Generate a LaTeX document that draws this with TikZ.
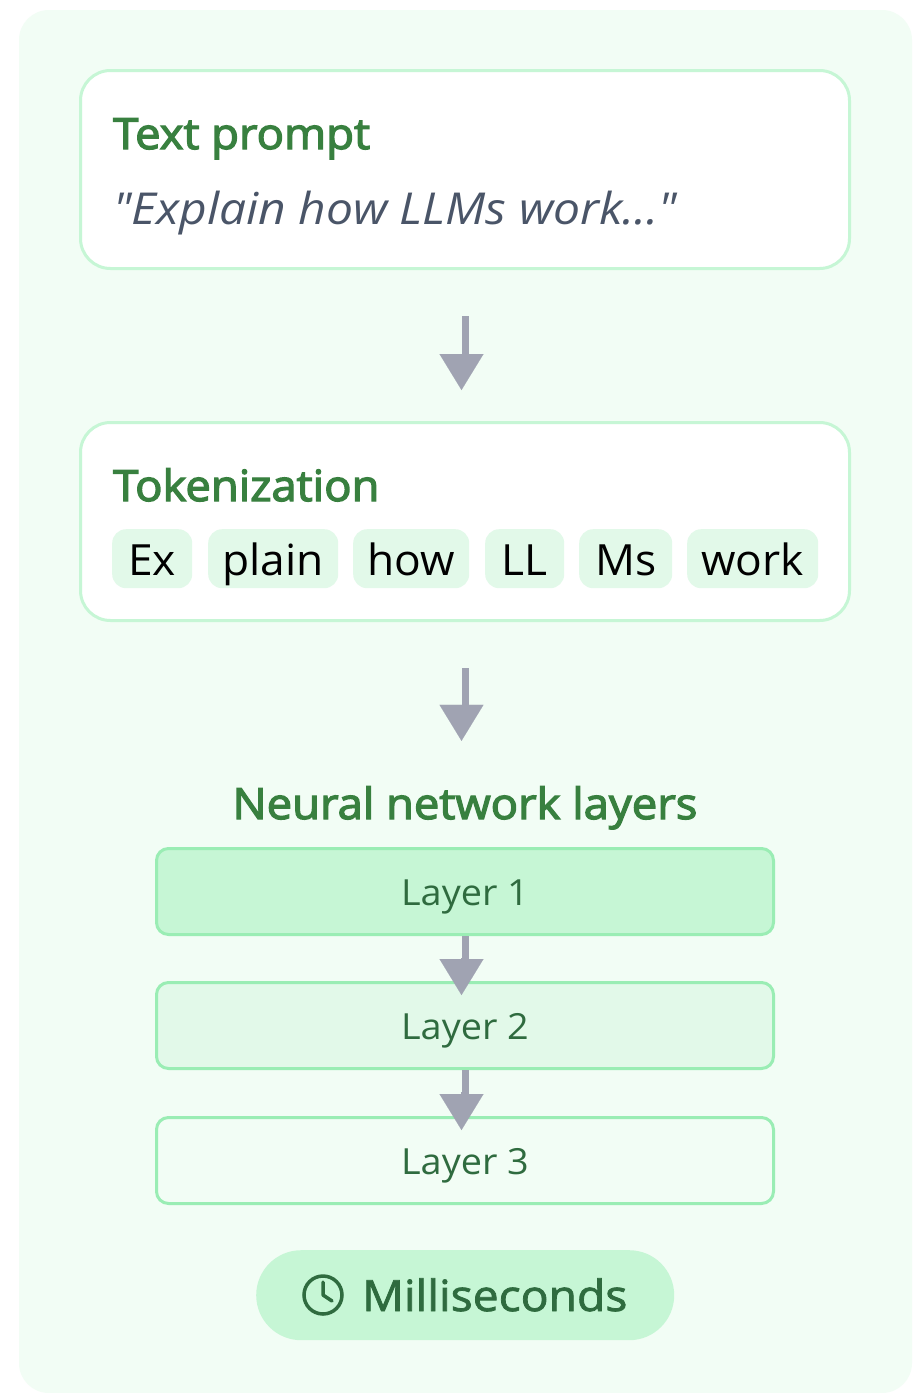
\documentclass[tikz,border=0pt]{standalone}
\usepackage{fontspec}
\newfontfamily\titlefont[FakeBold=3,FakeStretch=1.055]{Open Sans}
\newfontfamily\midfont[FakeBold=1.8,FakeStretch=1.075]{Open Sans}
\newfontfamily\promptfont[FakeStretch=1.09]{Open Sans}
\newfontfamily\tokenfont[FakeStretch=1.03]{Open Sans}
\newfontfamily\layerfont[FakeStretch=1.05]{Open Sans}
\usetikzlibrary{arrows.meta}
\definecolor{panelbg}{HTML}{F2FDF5}
\definecolor{softborder}{HTML}{C6F6D5}
\definecolor{layerborder}{HTML}{9AEDB4}
\definecolor{tokenbg}{HTML}{E2F9E9}
\definecolor{titlegreen}{HTML}{38803F}
\definecolor{darkgreen}{HTML}{2F6B3F}
\definecolor{slatetext}{HTML}{4A5568}
\definecolor{arrowgrey}{HTML}{A0A3B2}
\tikzset{
  x=1pt,y=-1pt,
  card/.style={draw=softborder,line width=3pt,fill=white,rounded corners=30pt,minimum width=769pt,minimum height=198pt,anchor=north west,inner sep=0pt},
  titletext/.style={anchor=base west,inner sep=0pt,text=titlegreen,font=\titlefont\fontsize{43}{50}\selectfont},
  prompttext/.style={anchor=base west,inner sep=0pt,text=slatetext,font=\promptfont\fontsize{44}{50}\selectfont\itshape},
  tokenbox/.style={fill=tokenbg,rounded corners=14pt,anchor=north west,inner sep=0pt,minimum height=59pt,text height=46pt,text depth=13pt,text=black,font=\tokenfont\fontsize{43}{50}\selectfont},
  layerbox/.style={draw=layerborder,line width=3pt,rounded corners=12pt,anchor=north west,inner sep=0pt,minimum width=617pt,minimum height=86pt,text height=56.5pt,text depth=29.5pt,text=darkgreen,font=\layerfont\fontsize{36}{42}\selectfont},
  shaft/.style={draw=arrowgrey,line width=7pt},
  arrowhead/.style={draw=arrowgrey,line width=0.1pt,-{Triangle[width=44pt,length=36pt,fill=arrowgrey]}},
}
\begin{document}
\begin{tikzpicture}
\useasboundingbox (0,0) rectangle (918,1393);
\fill[white] (0,0) rectangle (918,1393);
\fill[panelbg,rounded corners=30pt] (19,10) rectangle (912,1393);

\node[card] (prompt) at (79,69) {};
\node[titletext] (prompttitle) at (113,149) {Text prompt};
\node[prompttext] (prompttxt) at (113,224) {"Explain how LLMs work..."};

\node[card] (token) at (79,421) {};
\node[titletext] (tokentitle) at (113,501) {Tokenization};
\node[tokenbox,minimum width=80pt] (t1) at (112,529) {Ex};
\node[tokenbox,minimum width=130pt] (t2) at (208,529) {plain};
\node[tokenbox,minimum width=116pt] (t3) at (353,529) {how};
\node[tokenbox,minimum width=79pt] (t4) at (485,529) {LL};
\node[tokenbox,minimum width=93pt] (t5) at (579,529) {Ms};
\node[tokenbox,minimum width=131pt] (t6) at (687,529) {work};

\node[anchor=base,inner sep=0pt,text height=31pt,text=titlegreen,font=\titlefont\fontsize{43}{50}\selectfont] (nntitle) at (465,819) {Neural network layers};

\node[layerbox,fill=softborder] (l1) at (155,847) {Layer 1};
\node[layerbox,fill=tokenbg] (l2) at (155,981) {Layer 2};
\node[layerbox,fill=panelbg] (l3) at (155,1116) {Layer 3};

\node[fill=softborder,rounded corners=45pt,minimum width=418pt,minimum height=90pt,inner sep=0pt,anchor=north west] (pill) at (256,1250) {};
\node[anchor=base west,inner sep=0pt,text=darkgreen,font=\midfont\fontsize{43}{50}\selectfont] (ms) at (362,1311) {Milliseconds};
\node[circle,draw=darkgreen,line width=3.5pt,minimum size=38pt,inner sep=0pt] (clock) at (323,1295) {};
\draw[darkgreen,line width=3.5pt,line cap=round,line join=round] (323,1282) -- (clock.center) -- (332,1301);

% connectors: shaft on the node axis, head slightly to the left as in the reference
\draw[shaft,shorten <=46pt,shorten >=63pt] (prompt.south) -- (token.north);
\draw[arrowhead,shorten <=85pt,shorten >=31pt] ([xshift=-3.5pt]prompt.south) -- ([xshift=-3.5pt]token.north);
\draw[shaft,shorten <=46pt,shorten >=78pt] (token.south) -- (token.south |- nntitle.north);
\draw[arrowhead,shorten <=85pt,shorten >=47pt] ([xshift=-3.5pt]token.south) -- ([xshift=-3.5pt]token.south |- nntitle.north);
\draw[shaft,shorten <=0pt,shorten >=21pt] (l1.south) -- (l2.north);
\draw[arrowhead,shorten <=22pt,shorten >=-14pt] ([xshift=-3.5pt]l1.south) -- ([xshift=-3.5pt]l2.north);
\draw[shaft,shorten <=0pt,shorten >=21pt] (l2.south) -- (l3.north);
\draw[arrowhead,shorten <=22pt,shorten >=-14pt] ([xshift=-3.5pt]l2.south) -- ([xshift=-3.5pt]l3.north);
\end{tikzpicture}
\end{document}
